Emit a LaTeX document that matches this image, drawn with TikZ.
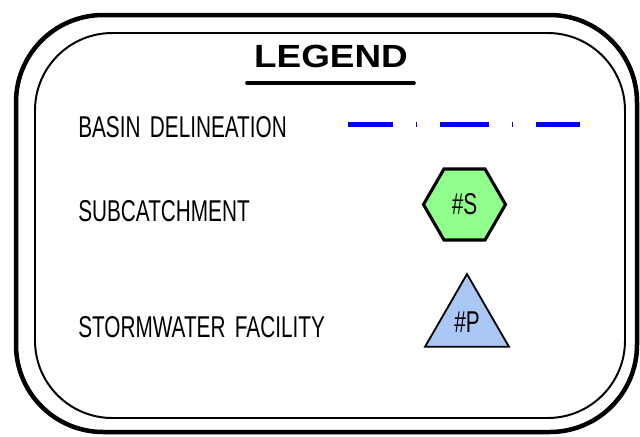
\documentclass[tikz,border=0pt]{standalone}
\usepackage{fontspec}
\setmainfont{Liberation Sans}
\usepackage{tikz}
\usetikzlibrary{shapes.geometric,calc}
\definecolor{basinblue}{RGB}{0,0,240}
\definecolor{subgreen}{RGB}{144,255,140}
\definecolor{facblue}{RGB}{170,200,245}

\newcommand{\cadtext}[1]{\scalebox{0.69}[1]{\fontsize{21.4}{22}\selectfont\spaceskip=0.45em #1}}

\tikzset{
    itemtext/.style={anchor=base west, inner sep=0pt}
}

\begin{document}
\begin{tikzpicture}[x=0.025cm, y=-0.025cm]
    \useasboundingbox (0,0) rectangle (640,436);

    % Frame
    \draw[line width=3.2pt, rounded corners=62pt] (16,15) rectangle (637,432);
    \draw[line width=1.4pt, rounded corners=55pt] (35,33) rectangle (625,418);

    % Title
    \node[font=\fontsize{22.8}{24}\selectfont\bfseries, xscale=1.15, inner sep=0pt, anchor=base]
        (title) at (331,67) {LEGEND};
    \draw[line width=2.6pt, line cap=round] (247,83) -- (414,83);

    % Items
    \node[itemtext] (basin) at (78,137) {\cadtext{BASIN DELINEATION}};
    \node[itemtext] (sub) at (78,221) {\cadtext{SUBCATCHMENT}};
    \node[itemtext] (fac) at (78,337) {\cadtext{STORMWATER FACILITY}};

    % Basin line
    \foreach \a/\b in {348/393, 415.5/417, 440/489, 511.5/513, 536/580} {
        \draw[basinblue, line width=3.6pt] (\a,124.5) -- (\b,124.5);
    }

    % Subcatchment symbol
    \node[regular polygon, regular polygon sides=6, draw, line width=2.2pt,
        fill=subgreen, inner sep=0pt, minimum size=2.05cm] (hex) at (464.5,204.5)
        {\cadtext{\#S}};

    % Stormwater facility symbol
    \node[regular polygon, regular polygon sides=3, draw, line width=1.3pt,
        fill=facblue, inner sep=0pt, minimum size=2.42cm] (tri) at (467,322.5)
        {\raisebox{-6pt}{\cadtext{\#P}}};
\end{tikzpicture}
\end{document}
